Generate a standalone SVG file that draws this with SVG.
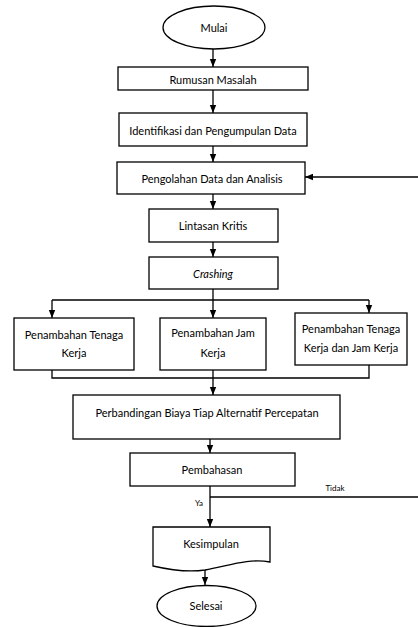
<svg xmlns="http://www.w3.org/2000/svg" width="418" height="627" viewBox="0 0 418 627">
<style>
.s{fill:#fff;stroke:#000;stroke-width:1.3}
.c{fill:none;stroke:#000;stroke-width:1.3}
text{font-family:Lato,"Liberation Sans",sans-serif;font-size:11px;fill:#000;text-anchor:middle;dominant-baseline:central}
.sm{font-size:8px}
</style>
<defs>
<marker id="a" markerUnits="userSpaceOnUse" markerWidth="8" markerHeight="8" viewBox="0 0 8 8" refX="8" refY="4" orient="auto">
<path d="M0,0.8 L8,4 L0,7.2 Z" fill="#000"/>
</marker>
</defs>
<rect width="418" height="627" fill="#fff"/>
<g id="connectors">
<line class="c" x1="213" y1="49" x2="213" y2="67" marker-end="url(#a)"/>
<line class="c" x1="213" y1="90" x2="213" y2="113" marker-end="url(#a)"/>
<line class="c" x1="213" y1="146" x2="213" y2="162" marker-end="url(#a)"/>
<line class="c" x1="213" y1="194" x2="213" y2="209" marker-end="url(#a)"/>
<line class="c" x1="213" y1="242" x2="213" y2="257" marker-end="url(#a)"/>
<line class="c" x1="213" y1="289" x2="213" y2="318" marker-end="url(#a)"/>
<polyline class="c" points="52,300 369,300"/>
<line class="c" x1="52" y1="300" x2="52" y2="318" marker-end="url(#a)"/>
<line class="c" x1="369" y1="300" x2="369" y2="313" marker-end="url(#a)"/>
<polyline class="c" points="52,370 52,378 369,378 369,365"/>
<line class="c" x1="213" y1="370" x2="213" y2="395" marker-end="url(#a)"/>
<line class="c" x1="210" y1="439" x2="210" y2="453" marker-end="url(#a)"/>
<line class="c" x1="210" y1="486" x2="210" y2="527" marker-end="url(#a)"/>
<line class="c" x1="210" y1="497" x2="418" y2="497"/>
<line class="c" x1="418" y1="177" x2="305" y2="177" marker-end="url(#a)"/>
<line class="c" x1="205" y1="570" x2="205" y2="585" marker-end="url(#a)"/>
<text class="sm" x="199" y="503">Ya</text>
<text class="sm" x="335" y="488">Tidak</text>
</g>
<g id="mulai">
<ellipse class="s" cx="214" cy="27.5" rx="51" ry="21.5"/>
<text x="214" y="27">Mulai</text>
</g>
<g id="rumusan">
<rect class="s" x="118" y="67" width="190" height="23"/>
<text x="213" y="79">Rumusan Masalah</text>
</g>
<g id="identifikasi">
<rect class="s" x="119" y="113" width="188" height="33"/>
<text x="213" y="130">Identifikasi dan Pengumpulan Data</text>
</g>
<g id="pengolahan">
<rect class="s" x="117" y="162" width="188" height="32"/>
<text x="212" y="178">Pengolahan Data dan Analisis</text>
</g>
<g id="lintasan">
<rect class="s" x="149" y="209" width="129" height="33"/>
<text x="213" y="225">Lintasan Kritis</text>
</g>
<g id="crashing">
<rect class="s" x="149" y="257" width="129" height="32"/>
<text x="213" y="273" font-style="italic">Crashing</text>
</g>
<g id="tenaga">
<rect class="s" x="14" y="318" width="120" height="52"/>
<text x="74" y="334">Penambahan Tenaga</text>
<text x="74" y="352">Kerja</text>
</g>
<g id="jam">
<rect class="s" x="160" y="318" width="106" height="52"/>
<text x="213" y="332">Penambahan Jam</text>
<text x="213" y="352">Kerja</text>
</g>
<g id="tenagajam">
<rect class="s" x="295" y="313" width="112" height="52"/>
<text x="351" y="328">Penambahan Tenaga</text>
<text x="351" y="347">Kerja dan Jam Kerja</text>
</g>
<g id="perbandingan">
<rect class="s" x="73" y="395" width="267" height="44"/>
<text x="207" y="412">Perbandingan Biaya Tiap Alternatif Percepatan</text>
</g>
<g id="pembahasan">
<rect class="s" x="130" y="453" width="165" height="33"/>
<text x="212" y="469">Pembahasan</text>
</g>
<g id="kesimpulan">
<path class="s" d="M153,527 L270,527 L270,562 C248,558 228,566 205,570 C185,573 166,569 153,566 Z"/>
<text x="211" y="543">Kesimpulan</text>
</g>
<g id="selesai">
<ellipse class="s" cx="206.5" cy="606" rx="49.5" ry="20.5"/>
<text x="206" y="605">Selesai</text>
</g>
</svg>
